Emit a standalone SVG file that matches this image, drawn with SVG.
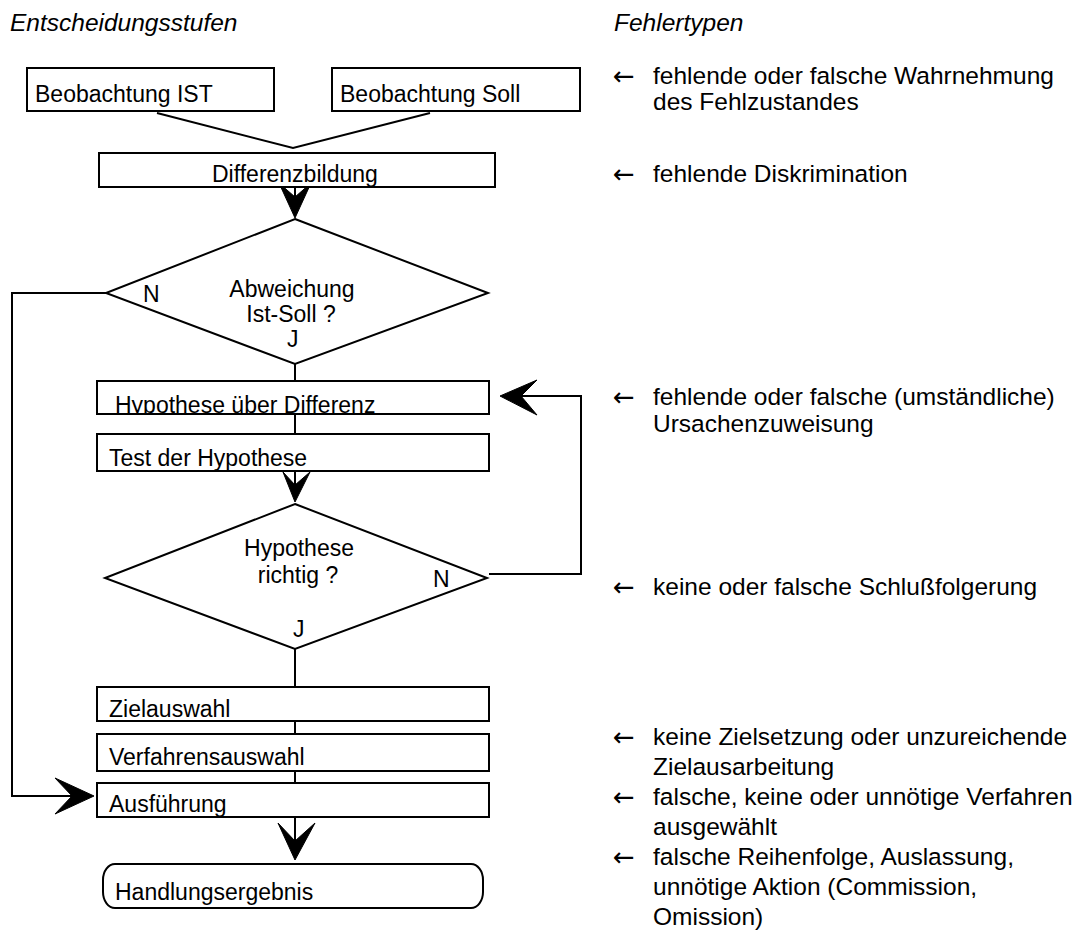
<svg xmlns="http://www.w3.org/2000/svg" width="1076" height="938" viewBox="0 0 1076 938">
  <style>
    .box { fill: #ffffff; stroke: #000000; stroke-width: 2; }
    .line { fill: none; stroke: #000000; stroke-width: 2; }
    .head { fill: #000000; stroke: #000000; stroke-width: 1; stroke-linejoin: miter; }
    .t { font-family: "Liberation Sans", Arial, sans-serif; font-size: 23px; fill: #000000; }
    .r { font-family: "Liberation Sans", Arial, sans-serif; font-size: 24.5px; fill: #000000; }
    .c { text-anchor: middle; }
    .title { font-family: "Liberation Sans", Arial, sans-serif; font-size: 24.5px; font-style: italic; fill: #000000; }
    .arr { font-family: "DejaVu Sans", "Liberation Sans", sans-serif; font-size: 26px; fill: #000000; }
  </style>
  <defs>
    <clipPath id="clipHyp"><rect x="97" y="381" width="392" height="33"/></clipPath>
    <clipPath id="clipTest"><rect x="97" y="434" width="392" height="37"/></clipPath>
    <clipPath id="clipAus"><rect x="97" y="783" width="392" height="34"/></clipPath>
  </defs>

  <rect width="1076" height="938" fill="#ffffff"/>

  <!-- column headings -->
  <text class="title" x="10" y="31">Entscheidungsstufen</text>
  <text class="title" x="614" y="31">Fehlertypen</text>

  <!-- connectors -->
  <g id="connectors">
    <polyline class="line" points="157,113 293,148 430,113"/>
    <line class="line" x1="295" y1="187" x2="295" y2="205"/>
    <line class="line" x1="295" y1="364" x2="295" y2="381"/>
    <line class="line" x1="295" y1="414" x2="295" y2="434"/>
    <line class="line" x1="295" y1="471" x2="295" y2="490"/>
    <line class="line" x1="295" y1="649" x2="295" y2="687"/>
    <line class="line" x1="295" y1="721" x2="295" y2="734"/>
    <line class="line" x1="295" y1="771" x2="295" y2="783"/>
    <line class="line" x1="295" y1="817" x2="295" y2="845"/>
    <!-- N branch of first decision to execution -->
    <polyline class="line" points="106,293 12,293 12,796 75,796"/>
    <!-- N branch of second decision back to hypothesis -->
    <polyline class="line" points="489,574 581,574 581,396 520,396"/>
    <!-- arrowheads -->
    <path class="head" d="M295,218 L279,183 L295,197 L311,183 Z"/>
    <path class="head" d="M295,502 L283,472 L295,485 L310,472 Z"/>
    <path class="head" d="M500,396 L537,380 L521,396 L537,415 Z"/>
    <path class="head" d="M94,796 L55,778 L72,796 L55,814 Z"/>
    <path class="head" d="M295,860 L278,823 L295,841 L315,823 Z"/>
  </g>

  <!-- decision stages -->
  <g id="beob-ist">
    <rect class="box" x="27" y="68" width="247" height="43"/>
    <text class="t" x="35" y="102">Beobachtung IST</text>
  </g>
  <g id="beob-soll">
    <rect class="box" x="332" y="68" width="248" height="43"/>
    <text class="t" x="340" y="102">Beobachtung Soll</text>
  </g>
  <g id="differenz">
    <rect class="box" x="99" y="153" width="396" height="34"/>
    <text class="t" x="212" y="182">Differenzbildung</text>
  </g>
  <g id="abweichung">
    <polygon class="box" points="295,219 488,293 295,364 106,293"/>
    <text class="t c" x="292" y="297">Abweichung</text>
    <text class="t c" x="291" y="322">Ist-Soll ?</text>
    <text class="t" x="143" y="302">N</text>
    <text class="t" x="287" y="347">J</text>
  </g>
  <g id="hypothese">
    <rect class="box" x="97" y="381" width="392" height="33"/>
    <text class="t" x="115" y="413" clip-path="url(#clipHyp)">Hypothese über Differenz</text>
  </g>
  <g id="test">
    <rect class="box" x="97" y="434" width="392" height="37"/>
    <text class="t" x="109" y="466" clip-path="url(#clipTest)">Test der Hypothese</text>
  </g>
  <g id="richtig">
    <polygon class="box" points="295,504 487,578 295,649 105,578"/>
    <text class="t c" x="299" y="556">Hypothese</text>
    <text class="t c" x="298" y="583">richtig ?</text>
    <text class="t" x="433" y="587">N</text>
    <text class="t" x="293" y="637">J</text>
  </g>
  <g id="zielauswahl">
    <rect class="box" x="97" y="687" width="392" height="34"/>
    <text class="t" x="109" y="717">Zielauswahl</text>
  </g>
  <g id="verfahrensauswahl">
    <rect class="box" x="97" y="734" width="392" height="37"/>
    <text class="t" x="109" y="765">Verfahrensauswahl</text>
  </g>
  <g id="ausfuehrung">
    <rect class="box" x="97" y="783" width="392" height="34"/>
    <text class="t" x="109" y="812" clip-path="url(#clipAus)">Ausführung</text>
  </g>
  <g id="ergebnis">
    <rect class="box" x="103" y="864" width="380" height="44" rx="12" ry="16"/>
    <text class="t" x="115" y="900">Handlungsergebnis</text>
  </g>

  <!-- error types -->
  <g id="fehlertypen">
    <text class="arr" x="613" y="85">←</text>
    <text class="r" x="653" y="84">fehlende oder falsche Wahrnehmung</text>
    <text class="r" x="653" y="110">des Fehlzustandes</text>

    <text class="arr" x="613" y="183">←</text>
    <text class="r" x="653" y="182">fehlende Diskrimination</text>

    <text class="arr" x="613" y="406">←</text>
    <text class="r" x="653" y="405">fehlende oder falsche (umständliche)</text>
    <text class="r" x="653" y="432">Ursachenzuweisung</text>

    <text class="arr" x="613" y="596">←</text>
    <text class="r" x="653" y="595">keine oder falsche Schlußfolgerung</text>

    <text class="arr" x="613" y="746">←</text>
    <text class="r" x="653" y="745">keine Zielsetzung oder unzureichende</text>
    <text class="r" x="653" y="775">Zielausarbeitung</text>
    <text class="arr" x="613" y="806">←</text>
    <text class="r" x="653" y="805">falsche, keine oder unnötige Verfahren</text>
    <text class="r" x="653" y="835">ausgewählt</text>
    <text class="arr" x="613" y="866">←</text>
    <text class="r" x="653" y="865">falsche Reihenfolge, Auslassung,</text>
    <text class="r" x="653" y="895">unnötige Aktion (Commission,</text>
    <text class="r" x="653" y="925">Omission)</text>
  </g>
</svg>
